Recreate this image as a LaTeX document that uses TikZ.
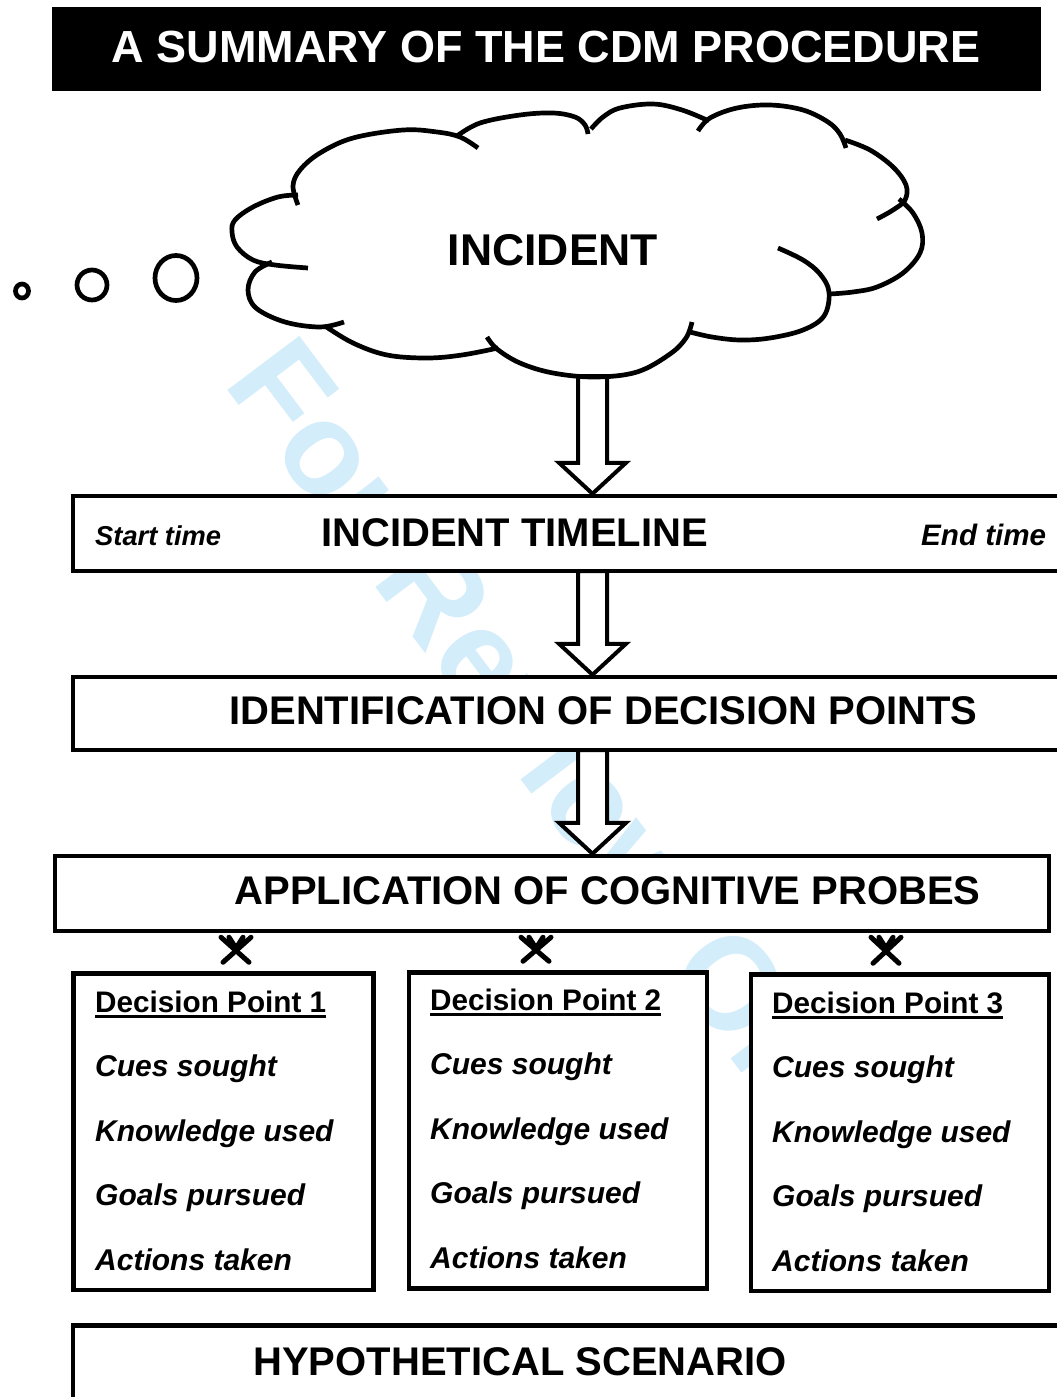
\documentclass[tikz,border=0pt]{standalone}
\usepackage{fontspec}
\setmainfont{Liberation Sans}
\usetikzlibrary{calc,fit}
\definecolor{wmblue}{RGB}{212,237,250}
\newcommand\fsz[1]{\fontsize{#1}{#1}\selectfont}

% hollow block arrow from a start point down to a target point
\newcommand\blockarrow[2]{%
  \draw[barrow] let \p1=(#1), \p2=(#2) in
    (\x1-14.5pt,\y1) -- (\x1-14.5pt,\y2+31pt) -- (\x1-33.5pt,\y2+31pt)
    -- (\x1,\y2) -- (\x1+33.5pt,\y2+31pt) -- (\x1+14.5pt,\y2+31pt)
    -- (\x1+14.5pt,\y1) -- cycle;}

% small crossed link between the probes bar and a decision box
\newcommand\xconn[3]{%
  \draw[xlink] let \p1=(#2.south), \p2=(#3.north) in
    (#1pt-15pt,\y1-4pt) -- (#1pt+13pt,\y2+9pt)
    (#1pt+15pt,\y1-4pt) -- (#1pt-13pt,\y2+9pt)
    (#1pt-7pt,\y1-4pt) -- (#1pt,\y1-15pt) -- (#1pt+7pt,\y1-4pt);}

\begin{document}
\begin{tikzpicture}[x=1pt,y=-1pt,
  box/.style={draw=black, fill=white, line width=4.5pt, inner sep=0pt, rectangle},
  barrow/.style={draw=black, fill=white, line width=4pt, line join=miter},
  cloudline/.style={draw=black, line width=4.7pt, line cap=butt},
  lobe/.style={cloudline, smooth, tension=0.6},
  xlink/.style={draw=black, line width=5pt, line cap=round, line join=round},
  heading/.style={inner sep=0pt, font=\fsz{40}\bfseries},
  dptitle/.style={inner sep=0pt, font=\fsz{29.7}\bfseries},
  dpitem/.style={inner sep=0pt, font=\fsz{30}\bfseries\itshape},
  uline/.style={line width=3.5pt},
  wm/.style={inner sep=0pt, text=wmblue, font=\fsz{131}\bfseries}]

\useasboundingbox (0,0) rectangle (1057,1397);
\clip (0,0) rectangle (1057,1397);

% watermark, lying under every filled shape
\node[wm, anchor=base west, rotate=-53] (wmk) at (222,383) {For Review Only};

% title bar
\node[fill=black, inner sep=0pt, fit={(52,7) (1041,91)}] (bar) {};
\node[inner sep=0pt, text=white, font=\fsz{45}\bfseries, anchor=base] (ttl) at (546,63) {A SUMMARY OF THE CDM PROCEDURE};

% process boxes
\node[box, fit={(73,496) (1075,571)}] (tl) {};
\node[box, fit={(73,677) (1075,750)}] (idb) {};
\node[box, fit={(55,856) (1049,931)}] (pr) {};
\node[box, fit={(73.5,973.5) (373.5,1290)}] (dp1) {};
\node[box, fit={(409,972.5) (707,1288.5)}] (dp2) {};
\node[box, fit={(751,974.5) (1049,1291)}] (dp3) {};
\node[box, fit={(73,1325.5) (1075,1440)}] (hyp) {};

% arrows down the procedure
\coordinate (axis) at (592.5,0);
\coordinate (cb) at (592.5,376);
\path (tl.south -| axis) ++(0,-2.25) coordinate (a2s);
\path (idb.south -| axis) ++(0,-2.25) coordinate (a3s);
\blockarrow{cb}{cb |- tl.north}
\blockarrow{a2s}{a2s |- idb.north}
\blockarrow{a3s}{a3s |- pr.north}

% thought cloud
\draw[lobe] plot coordinates {(298,205) (293,186) (300,170) (320,153) (353,138) (403,130) (437,132) (460,137) (478,148)};
\draw[lobe] plot coordinates {(457,136) (480,123) (520,115) (553,113) (575,117) (585,125) (588,134)};
\draw[lobe] plot coordinates {(591,129) (603,117) (620,108) (653,104) (682,110) (709,121)};
\draw[lobe] plot coordinates {(698,131) (710,118) (737,108) (770,105) (803,110) (828,122) (840,134) (846,148)};
\draw[lobe] plot coordinates {(845,140) (870,150) (893,167) (906,185) (905,200) (893,210) (877,219)};
\draw[lobe] plot coordinates {(899,199) (913,213) (922,233) (920,253) (903,273) (877,287) (853,292) (830,294)};
\draw[lobe] plot coordinates {(778,248) (803,260) (820,274) (829,292) (824,316) (803,330) (770,338) (740,340) (712,337) (690,332)};
\draw[lobe] plot coordinates {(692,322) (686,338) (670,354) (637,372) (595,377) (553,373) (520,363) (497,349) (487,337)};
\draw[lobe] plot coordinates {(325,326) (353,343) (387,355) (427,358) (462,355) (498,348)};
\draw[lobe] plot coordinates {(272,262) (255,272) (248,290) (256,308) (285,322) (320,327) (344,322)};
\draw[lobe] plot coordinates {(298,195) (278,197) (253,207) (235,220) (232,232) (237,247) (253,260) (275,265) (308,268)};
\draw[cloudline] (176,278) ellipse[x radius=21pt, y radius=22.5pt];
\draw[cloudline] (92,285) ellipse[x radius=15pt, y radius=15pt];
\draw[cloudline] (22,291) ellipse[x radius=6.5pt, y radius=7pt];
\node[inner sep=0pt, font=\fsz{44.5}\bfseries, anchor=base] (inc) at (553,265) {INCIDENT};

% box texts
\node[inner sep=0pt, font={\fsz{27.3}\bfseries\itshape}, anchor=base west] (st) at (95,545) {Start time};
\node[heading, anchor=base] (tlt) at (514.5,546) {INCIDENT TIMELINE};
\node[inner sep=0pt, font={\fsz{29.6}\bfseries\itshape}, anchor=base west] (et) at (921,545) {End time};
\node[heading, anchor=base] (idt) at (603.5,724.5) {IDENTIFICATION OF DECISION POINTS};
\node[heading, anchor=base] (prt) at (607.5,904) {APPLICATION OF COGNITIVE PROBES};
\node[heading, anchor=base] (hyt) at (520,1375) {HYPOTHETICAL SCENARIO};

% links from the probes bar to each decision point
\xconn{236}{pr}{dp1}
\xconn{536}{pr}{dp2}
\xconn{886}{pr}{dp3}

% decision point contents
\foreach \k/\x/\y in {1/95/1012, 2/430/1010, 3/772/1013} {
  \node[dptitle, anchor=base west] (dp\k t) at (\x,\y) {Decision Point \k};
  \draw[uline] ([yshift=-4.5pt]dp\k t.base west) -- ([yshift=-4.5pt]dp\k t.base east);
  \node[dpitem, anchor=base west] (dp\k a) at (\x,\y+64.5) {Cues sought};
  \node[dpitem, anchor=base west] (dp\k b) at (\x,\y+129) {Knowledge used};
  \node[dpitem, anchor=base west] (dp\k c) at (\x,\y+193.5) {Goals pursued};
  \node[dpitem, anchor=base west] (dp\k d) at (\x,\y+258) {Actions taken};
}
\end{tikzpicture}
\end{document}
